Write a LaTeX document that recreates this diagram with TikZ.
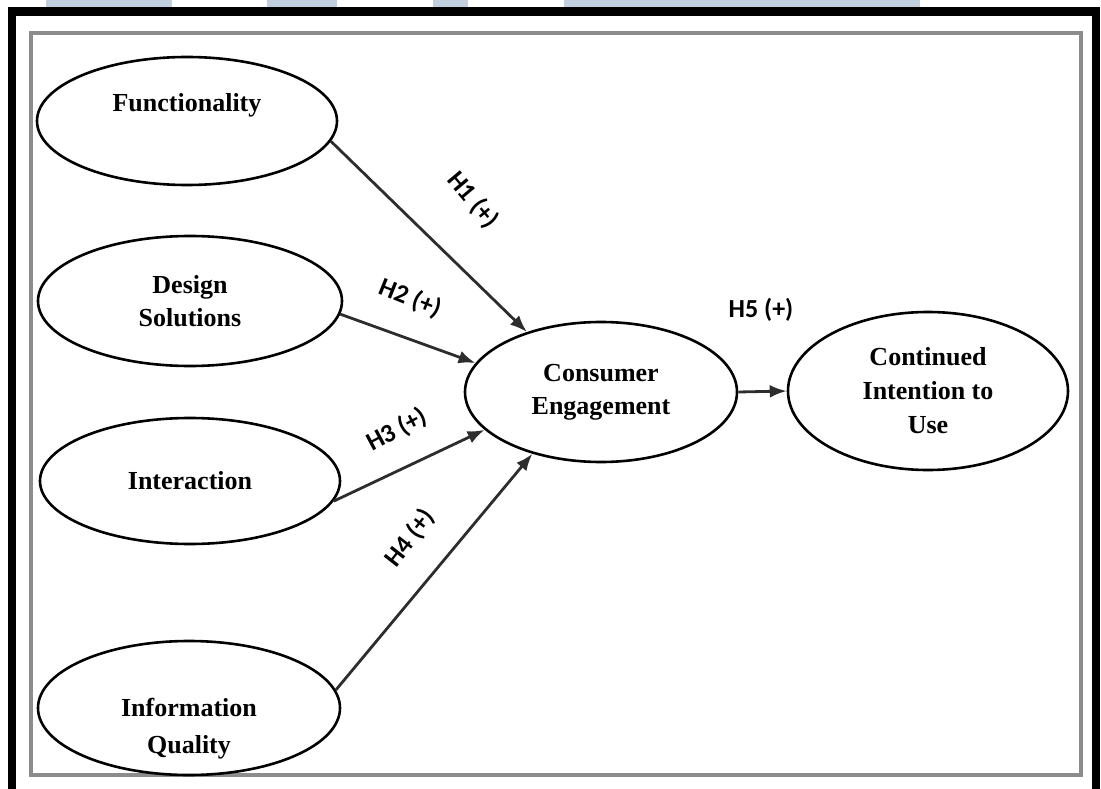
\documentclass[tikz,border=0pt]{standalone}
\usepackage{fontspec}
\setmainfont{Liberation Serif}
\newfontfamily\labelfont{Carlito}
\usetikzlibrary{shapes.geometric,arrows.meta}
\definecolor{stripblue}{RGB}{192,207,222}
\definecolor{framegray}{RGB}{140,140,140}
\definecolor{pathgray}{RGB}{45,45,45}

\begin{document}
\begin{tikzpicture}[x=1pt,y=-1pt,
  construct/.style={draw=black, line width=2.6pt, ellipse, inner sep=0pt, fill=white,
    font=\fontsize{26}{33}\selectfont\bfseries, align=center},
  ctext/.style={font=\fontsize{26}{37}\selectfont\bfseries, align=center, inner sep=0pt},
  hypo/.style={draw=pathgray, line width=2.8pt, -{Latex[length=17pt,width=13pt]}},
  hlabel/.style={font=\labelfont\bfseries\fontsize{26}{30}\selectfont, inner sep=0pt}
]
\useasboundingbox (0,0) rectangle (1101,789);
\begin{scope}
\clip (0,0) rectangle (1101,789);
% header strip
\fill[stripblue] (46,0) rectangle (172,7.5);
\fill[stripblue] (267,0) rectangle (337,7.5);
\fill[stripblue] (433,0) rectangle (468,7.5);
\fill[stripblue] (564,0) rectangle (920,7.5);
% outer black frame
\draw[line width=8.6pt, line join=miter] (12,800) -- (12,11.5) -- (1096,11.5) -- (1096,800);
\end{scope}
% inner grey frame
\draw[framegray, line width=4pt] (31,33) rectangle (1081,775);

% constructs
\node[construct, minimum width=300pt, minimum height=128pt] (func) at (187,121) {};
\node[ctext] (functxt) at ([yshift=16pt]func.center) {Functionality};
\node[construct, minimum width=304pt, minimum height=130pt] (design) at (190,301) {Design\\Solutions};
\node[construct, minimum width=300pt, minimum height=126pt] (inter) at (190,481) {Interaction};
\node[construct, minimum width=302pt, minimum height=134pt] (info) at (189,708) {};
\node[ctext] (infotxt) at ([yshift=-21pt]info.center) {Information\\Quality};
\node[construct, minimum width=272pt, minimum height=140pt] (ce) at (601,392) {Consumer\\Engagement};
\node[construct, minimum width=280pt, minimum height=158pt, font=\fontsize{26}{34}\selectfont\bfseries] (ciu) at (928,391) {Continued\\Intention to\\Use};

% hypothesised paths
\draw[hypo] (func.-8.6) -- (ce.141.7);
\draw[hypo] (design.-5.7) -- (ce.167.7);
\draw[hypo] (inter.-8.5) -- (ce.198.6);
\draw[hypo] (info.7.3) -- (ce.222);
\draw[hypo] (ce.east) -- (ciu.west);

% path labels
\node[hlabel, rotate=-50] (h1) at (473,200) {H1 (+)};
\node[hlabel, rotate=-22] (h2) at (410,298) {H2 (+)};
\node[hlabel, rotate=28] (h3) at (397,430) {H3 (+)};
\node[hlabel, rotate=52] (h4) at (410,538) {H4 (+)};
\node[hlabel] (h5) at (761,310) {H5 (+)};
\end{tikzpicture}
\end{document}
